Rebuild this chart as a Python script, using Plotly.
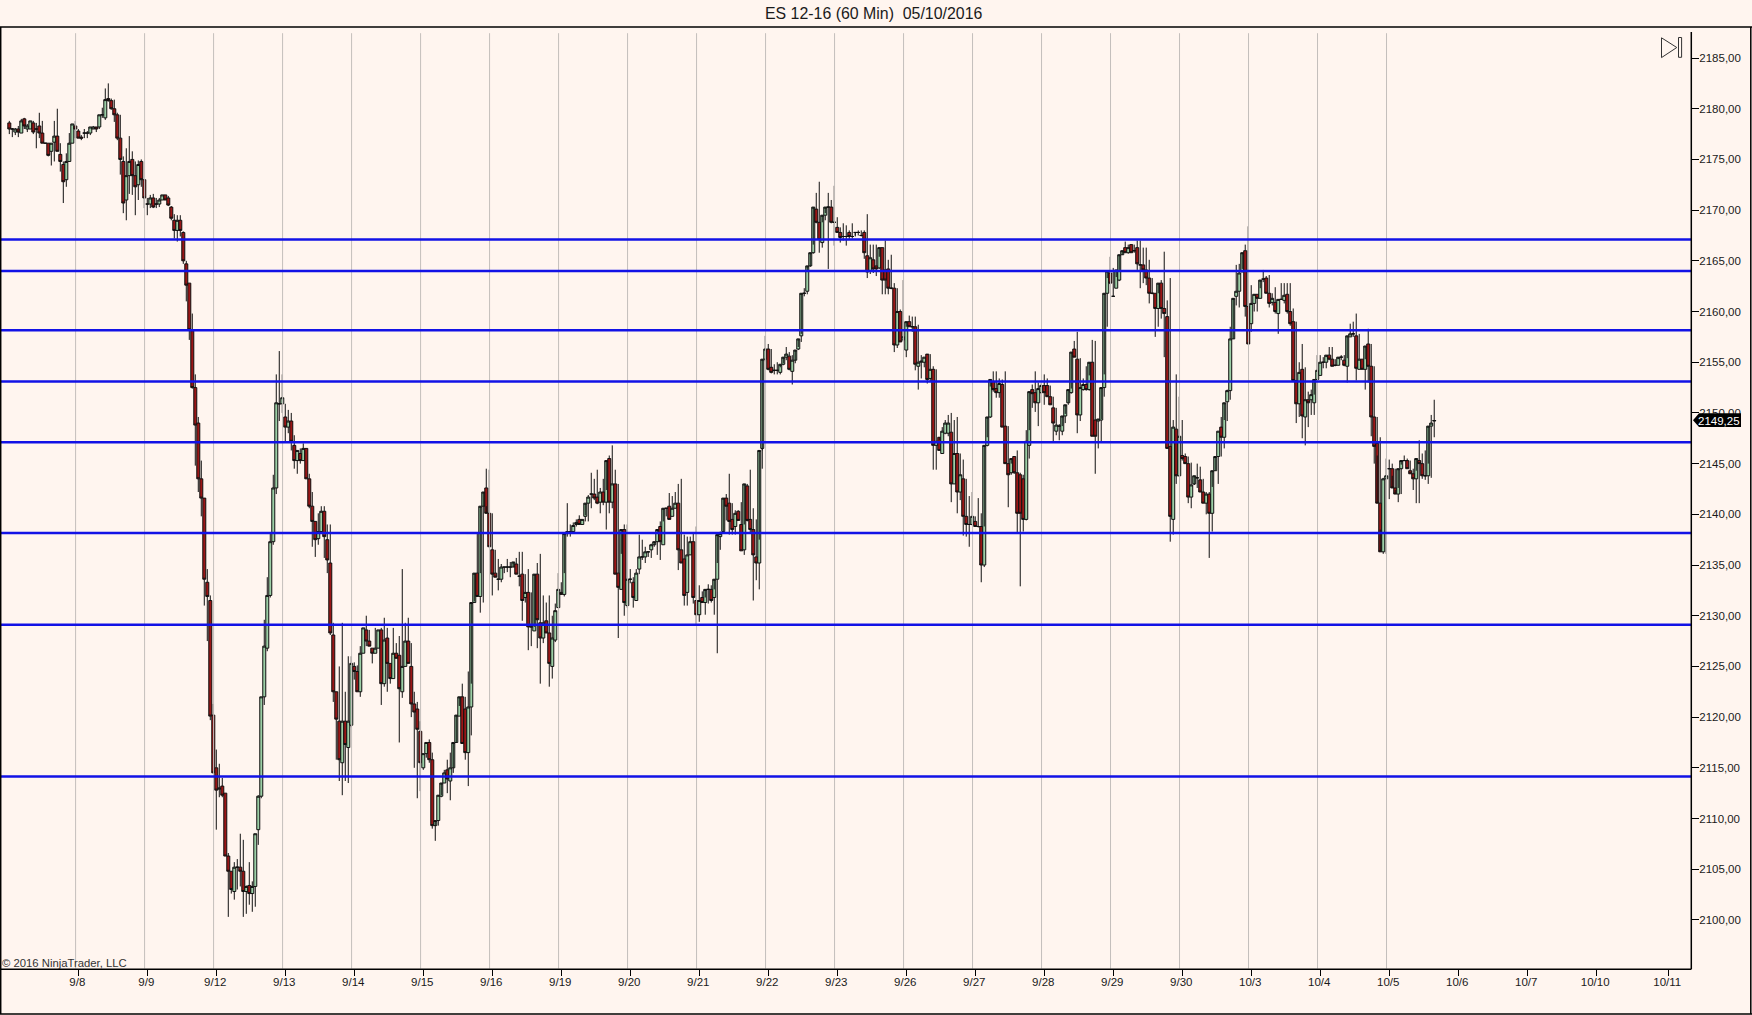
import plotly.graph_objects as go

opens = [
2178.6,2178.0,2177.7,2178.0,2177.6,2179.0,2178.0,2178.0,2178.6,2178.0,
2178.3,2177.6,2176.6,2176.6,2175.8,2176.7,2177.3,2175.5,2174.5,2173.0,
2174.8,2176.6,2178.3,2177.8,2177.2,2177.6,2177.6,2177.6,2178.0,2178.2,
2178.2,2179.4,2179.1,2181.0,2180.8,2180.0,2179.4,2177.1,2174.8,2171.0,
2173.4,2175.0,2173.4,2172.5,2174.8,2173.0,2170.6,2170.6,2171.2,2170.6,
2170.6,2171.0,2171.5,2171.2,2170.3,2169.0,2168.0,2169.0,2167.8,2164.7,
2162.8,2158.1,2152.5,2149.0,2143.5,2141.6,2133.3,2131.5,2120.2,2115.0,
2112.9,2113.2,2112.5,2106.3,2104.8,2102.8,2105.2,2105.2,2104.8,2102.8,
2103.4,2102.6,2103.3,2108.9,2112.2,2122.0,2126.8,2132.0,2137.3,2142.6,
2150.9,2150.9,2149.6,2148.6,2149.2,2146.8,2145.3,2146.0,2145.3,2146.5,
2143.5,2140.8,2139.3,2137.6,2138.3,2140.3,2137.5,2135.2,2128.1,2122.5,
2119.6,2115.5,2119.6,2117.0,2119.2,2125.0,2124.5,2122.5,2126.3,2128.6,
2127.5,2126.8,2126.3,2126.8,2128.6,2123.3,2127.8,2125.3,2123.8,2126.3,
2126.1,2122.5,2125.0,2127.5,2125.0,2121.3,2120.8,2118.6,2115.0,2116.4,
2117.5,2115.8,2109.3,2109.8,2112.2,2113.5,2114.8,2113.7,2115.0,2117.5,
2120.1,2122.0,2120.8,2116.5,2121.0,2131.3,2134.2,2131.9,2140.8,2142.6,
2140.1,2136.5,2134.2,2133.6,2133.6,2134.8,2134.8,2134.8,2134.8,2135.1,
2133.9,2134.1,2131.8,2132.3,2128.9,2128.5,2134.1,2129.3,2127.8,2129.5,
2128.3,2125.0,2127.6,2130.8,2132.3,2132.1,2138.1,2138.3,2138.3,2139.0,
2139.5,2139.0,2139.8,2141.1,2142.0,2142.0,2141.7,2141.2,2142.2,2141.2,
2145.5,2141.2,2143.0,2134.2,2132.6,2138.5,2131.0,2133.6,2133.3,2131.5,
2134.6,2135.8,2135.8,2136.3,2136.5,2137.0,2137.3,2138.8,2137.0,2140.6,
2140.8,2139.8,2140.6,2141.1,2136.5,2135.6,2132.3,2136.0,2137.3,2131.5,
2130.1,2131.8,2131.3,2132.6,2132.6,2131.8,2133.6,2137.8,2138.3,2141.6,
2141.1,2139.5,2138.8,2140.3,2139.0,2136.5,2142.8,2139.5,2138.5,2135.8,
2135.2,2146.5,2155.3,2156.3,2154.5,2154.2,2154.2,2154.0,2154.8,2155.5,
2155.6,2154.1,2155.2,2156.3,2157.6,2161.8,2162.0,2164.5,2165.8,2170.1,
2168.8,2166.8,2169.5,2170.3,2170.3,2168.8,2168.3,2167.8,2167.4,2167.4,
2167.8,2167.4,2167.8,2167.8,2167.5,2167.8,2165.5,2164.0,2165.1,2164.5,
2164.3,2166.3,2164.1,2164.2,2162.3,2162.3,2156.7,2160.0,2157.2,2156.2,
2159.0,2158.5,2158.5,2154.6,2155.0,2155.0,2155.8,2153.4,2154.3,2146.8,
2147.6,2146.0,2148.0,2148.0,2148.1,2143.0,2146.0,2142.2,2143.5,2139.8,
2139.0,2139.0,2139.3,2138.8,2138.8,2135.0,2146.8,2149.6,2153.1,2152.4,
2152.0,2152.8,2148.7,2145.0,2144.1,2145.7,2144.1,2143.9,2143.5,2139.5,
2146.8,2152.3,2152.0,2151.0,2152.0,2152.7,2152.7,2151.6,2150.5,2148.2,
2148.7,2148.2,2149.7,2151.0,2152.0,2156.3,2155.3,2149.8,2152.3,2152.8,
2152.3,2155.0,2149.3,2149.2,2149.3,2152.5,2161.8,2163.8,2161.5,2162.3,
2163.1,2165.6,2166.3,2165.8,2166.6,2166.0,2166.3,2164.6,2164.6,2164.1,
2163.3,2161.8,2161.8,2160.3,2162.8,2160.3,2159.5,2146.7,2139.5,2148.4,
2143.8,2145.8,2145.7,2145.0,2141.7,2143.0,2143.6,2143.4,2142.2,2141.1,
2142.0,2140.1,2144.3,2145.7,2148.6,2147.6,2151.1,2152.2,2157.3,2161.5,
2162.0,2163.9,2166.0,2160.5,2158.8,2160.8,2161.7,2161.3,2163.2,2163.3,
2161.8,2160.9,2160.9,2159.8,2161.2,2161.1,2161.7,2160.0,2159.0,2153.2,
2150.9,2154.3,2149.6,2151.3,2151.3,2151.0,2153.3,2153.7,2155.0,2155.0,
2155.7,2155.3,2154.7,2154.7,2155.5,2155.2,2154.6,2157.5,2157.8,2157.6,
2154.3,2155.3,2154.3,2156.8,2154.6,2149.6,2147.0,2141.1,2136.3,2143.5,
2144.5,2144.5,2142.6,2142.0,2144.5,2145.3,2145.3,2144.3,2144.0,2143.5,
2145.3,2145.0,2143.8,2143.8,2148.7,2149.2]

highs = [
2178.8,2178.1,2178.1,2178.3,2179.0,2179.1,2178.5,2178.8,2178.8,2178.6,
2179.6,2178.8,2176.6,2176.6,2176.6,2178.8,2180.0,2176.6,2174.8,2175.6,
2177.6,2178.5,2178.8,2178.0,2177.4,2178.0,2177.8,2178.2,2178.3,2178.2,
2179.4,2180.1,2182.0,2182.5,2181.0,2180.9,2179.6,2179.4,2175.3,2176.1,
2177.3,2175.8,2174.8,2174.9,2175.0,2173.0,2171.2,2171.5,2171.6,2171.2,
2171.2,2171.5,2171.5,2171.4,2170.4,2169.6,2169.5,2169.5,2167.9,2165.0,
2162.8,2159.8,2153.8,2149.6,2145.3,2141.6,2134.6,2132.0,2121.3,2116.8,
2115.4,2114.0,2112.5,2106.6,2104.8,2105.7,2106.0,2108.5,2107.9,2103.4,
2105.7,2103.8,2108.5,2112.3,2122.0,2129.6,2133.8,2138.1,2143.9,2153.8,
2156.1,2153.8,2150.9,2150.3,2150.0,2147.8,2146.3,2146.5,2147.0,2146.5,
2144.0,2142.2,2139.3,2140.1,2140.8,2140.8,2139.0,2139.0,2129.3,2122.5,
2125.0,2129.3,2122.5,2126.0,2126.0,2125.4,2125.1,2127.0,2128.8,2130.0,
2128.6,2126.8,2128.8,2128.6,2128.8,2129.8,2128.8,2125.3,2128.8,2127.3,
2128.0,2134.6,2129.3,2129.8,2127.3,2122.5,2121.5,2119.6,2116.4,2117.5,
2117.8,2116.5,2109.3,2112.2,2112.3,2114.8,2115.8,2116.5,2115.0,2117.5,
2121.1,2123.3,2122.0,2124.5,2123.3,2131.4,2138.1,2134.2,2140.8,2144.5,
2144.4,2140.1,2136.5,2135.6,2135.1,2134.8,2135.6,2135.3,2134.8,2135.7,
2136.3,2136.3,2134.1,2134.6,2132.3,2128.9,2135.2,2136.1,2132.0,2131.3,
2132.0,2130.0,2131.2,2134.2,2133.3,2134.2,2141.1,2139.0,2139.2,2139.5,
2139.9,2139.5,2139.9,2141.9,2144.1,2143.5,2144.4,2142.6,2143.5,2142.4,
2145.8,2146.8,2144.4,2143.0,2136.1,2139.0,2139.0,2134.6,2133.8,2134.6,
2138.0,2137.5,2136.8,2136.3,2137.1,2137.0,2138.2,2139.3,2139.3,2140.6,
2142.1,2141.8,2142.2,2143.0,2143.5,2138.0,2137.8,2137.8,2138.1,2138.8,
2133.0,2132.4,2131.8,2133.1,2133.0,2132.6,2135.2,2138.3,2138.3,2142.0,
2144.0,2141.1,2140.4,2140.4,2141.2,2139.0,2143.0,2144.4,2140.6,2139.5,
2137.5,2146.3,2157.6,2156.8,2156.3,2154.8,2155.0,2154.5,2154.9,2156.5,
2156.0,2155.7,2155.2,2156.5,2157.8,2162.3,2164.0,2164.5,2166.6,2171.7,
2172.8,2168.8,2169.7,2171.7,2171.0,2172.4,2169.3,2168.3,2168.7,2168.5,
2168.0,2168.7,2167.5,2168.0,2168.0,2168.0,2169.6,2166.6,2166.6,2166.6,
2165.4,2166.3,2167.0,2165.1,2165.6,2162.8,2162.3,2160.2,2163.1,2158.5,
2159.6,2159.5,2159.5,2158.7,2155.7,2155.5,2155.7,2155.8,2154.6,2154.3,
2147.3,2148.6,2149.3,2149.8,2150.0,2149.3,2149.6,2146.0,2145.4,2143.5,
2141.8,2142.2,2139.8,2141.6,2140.1,2138.8,2147.6,2152.6,2154.1,2154.1,
2153.4,2153.3,2154.1,2148.7,2145.0,2145.7,2146.3,2144.1,2143.9,2148.3,
2148.3,2152.8,2154.1,2153.0,2152.9,2153.8,2153.4,2152.7,2151.6,2150.5,
2148.9,2148.7,2149.9,2151.0,2152.4,2157.1,2158.0,2155.4,2153.4,2154.6,
2153.7,2157.2,2157.1,2149.3,2149.4,2153.8,2163.3,2165.4,2164.3,2163.4,
2164.1,2165.6,2166.9,2166.6,2166.6,2166.6,2167.0,2167.0,2166.3,2166.3,
2165.1,2163.3,2161.8,2161.8,2163.1,2165.9,2161.1,2163.3,2149.3,2153.8,
2151.6,2149.3,2146.0,2145.7,2145.1,2142.9,2145.0,2144.7,2143.5,2142.2,
2142.2,2142.7,2144.3,2148.2,2149.6,2149.3,2152.3,2158.5,2157.3,2164.6,
2164.7,2164.2,2166.6,2168.4,2162.6,2161.6,2161.7,2162.3,2164.1,2163.5,
2163.6,2161.8,2162.4,2161.1,2162.8,2162.8,2162.8,2162.8,2160.3,2159.0,
2155.0,2156.8,2154.5,2152.1,2152.3,2151.8,2155.7,2155.7,2155.5,2155.5,
2156.5,2156.5,2155.3,2155.3,2155.7,2155.7,2155.4,2158.8,2159.0,2159.8,
2157.8,2155.3,2155.3,2158.3,2156.8,2154.6,2149.6,2147.6,2143.6,2145.5,
2145.4,2145.0,2144.5,2142.6,2144.9,2145.8,2145.5,2145.3,2144.5,2144.3,
2147.3,2146.0,2146.3,2145.0,2149.8,2151.3,2149.6]

lows = [
2177.5,2177.2,2177.4,2177.2,2177.6,2178.0,2177.7,2178.0,2177.5,2176.1,
2177.1,2176.6,2176.6,2175.3,2174.4,2174.8,2175.8,2173.8,2170.7,2172.3,
2174.8,2176.6,2177.1,2177.1,2176.9,2177.1,2177.1,2177.4,2178.0,2177.7,
2178.0,2179.1,2178.9,2180.7,2179.9,2178.7,2176.9,2173.5,2169.7,2169.0,
2171.6,2171.5,2169.5,2171.0,2172.3,2170.2,2169.5,2170.2,2170.2,2170.2,
2170.3,2171.0,2171.0,2170.4,2169.0,2167.2,2166.9,2167.4,2164.7,2161.0,
2157.2,2152.4,2144.8,2142.2,2139.8,2131.0,2127.5,2119.7,2114.5,2108.9,
2112.1,2112.1,2106.3,2100.3,2102.6,2102.0,2103.0,2103.3,2100.3,2100.6,
2101.5,2100.8,2101.3,2107.4,2112.0,2121.2,2126.5,2131.8,2137.0,2142.0,
2149.2,2150.0,2147.2,2148.0,2146.3,2144.5,2144.0,2145.0,2145.3,2143.5,
2140.6,2136.8,2135.8,2137.0,2138.1,2135.7,2134.2,2128.1,2121.5,2115.8,
2113.7,2112.3,2113.7,2113.5,2119.0,2123.7,2122.5,2122.0,2126.3,2127.0,
2127.0,2125.3,2126.3,2126.8,2121.2,2123.0,2122.5,2123.3,2123.8,2125.8,
2117.5,2121.9,2125.0,2125.3,2120.0,2115.0,2112.0,2112.7,2114.8,2116.0,
2115.5,2109.0,2107.8,2109.3,2112.1,2113.5,2112.5,2111.8,2114.5,2117.5,
2120.1,2117.4,2115.8,2113.2,2118.2,2131.3,2131.9,2130.3,2131.3,2140.8,
2136.8,2132.0,2133.8,2132.5,2133.3,2134.2,2134.3,2133.8,2134.8,2134.1,
2132.9,2129.5,2131.3,2126.6,2127.0,2128.5,2126.8,2123.3,2127.3,2128.3,
2123.0,2123.8,2127.4,2130.8,2132.1,2131.9,2137.8,2137.8,2138.3,2138.8,
2139.0,2139.0,2139.3,2139.3,2140.6,2141.4,2141.0,2140.1,2140.9,2138.5,
2140.1,2140.6,2134.1,2127.8,2132.6,2130.0,2130.8,2133.2,2130.8,2131.5,
2134.1,2135.5,2135.2,2135.8,2135.7,2136.8,2136.0,2135.5,2137.0,2139.8,
2139.5,2139.8,2140.6,2134.5,2135.2,2131.0,2131.0,2136.0,2131.2,2129.1,
2129.4,2131.3,2130.1,2131.2,2131.3,2130.1,2126.3,2136.5,2138.3,2139.4,
2138.0,2138.0,2138.0,2139.4,2136.4,2136.0,2139.3,2138.2,2131.5,2133.5,
2132.6,2144.5,2155.1,2154.2,2153.9,2153.8,2153.8,2153.8,2154.7,2155.2,
2154.2,2152.8,2154.9,2156.2,2157.0,2161.5,2161.7,2164.4,2165.7,2168.7,
2165.8,2166.3,2169.0,2164.2,2168.7,2166.5,2167.8,2166.8,2167.0,2166.5,
2167.1,2167.2,2167.4,2167.5,2167.4,2165.2,2163.3,2163.7,2163.8,2163.5,
2164.2,2161.7,2161.7,2161.7,2162.2,2156.0,2156.4,2157.0,2157.2,2155.5,
2158.5,2158.0,2154.2,2152.3,2153.4,2154.5,2152.9,2153.1,2144.4,2144.4,
2146.3,2146.0,2147.9,2147.7,2141.2,2143.0,2140.1,2141.4,2137.9,2137.8,
2136.8,2138.9,2138.8,2138.7,2133.3,2134.8,2146.7,2149.5,2152.1,2151.5,
2151.5,2148.6,2145.0,2140.7,2143.9,2144.0,2138.1,2132.9,2138.3,2139.4,
2145.5,2150.5,2150.1,2148.7,2151.9,2150.8,2151.6,2150.8,2147.2,2147.8,
2147.3,2147.8,2149.0,2150.8,2151.9,2155.5,2148.0,2149.2,2152.2,2152.2,
2152.2,2147.7,2144.0,2146.5,2147.2,2151.6,2158.5,2162.7,2161.5,2162.3,
2163.0,2165.6,2165.8,2165.7,2165.8,2165.8,2164.1,2162.3,2162.8,2162.6,
2160.8,2161.7,2157.5,2158.5,2159.3,2155.5,2146.5,2137.3,2138.0,2143.0,
2143.7,2145.3,2145.0,2141.1,2140.6,2142.9,2142.6,2142.2,2141.1,2140.0,
2135.7,2138.3,2144.3,2143.0,2145.7,2146.5,2149.2,2151.3,2157.3,2160.6,
2160.4,2163.9,2159.5,2156.8,2158.0,2160.0,2160.0,2161.3,2162.9,2161.8,
2160.4,2160.6,2159.8,2157.8,2161.2,2160.8,2159.8,2158.6,2153.2,2149.0,
2149.6,2147.5,2146.8,2148.6,2149.8,2149.8,2153.2,2153.7,2154.4,2154.4,
2155.2,2154.6,2154.6,2154.7,2155.2,2154.6,2153.0,2157.5,2157.5,2153.2,
2154.3,2154.3,2152.3,2153.0,2147.7,2145.0,2145.8,2138.5,2136.1,2136.1,
2141.5,2143.8,2142.4,2141.2,2142.0,2145.3,2144.5,2144.0,2142.4,2141.1,
2141.1,2143.5,2143.4,2143.0,2143.6,2147.6,2148.8]

closes = [
2178.0,2178.0,2178.0,2177.7,2178.8,2178.3,2178.3,2178.8,2177.7,2178.0,
2177.6,2176.6,2176.6,2175.4,2176.6,2177.3,2175.8,2174.8,2172.8,2174.8,
2176.6,2178.5,2178.0,2177.1,2177.1,2177.6,2177.6,2178.2,2178.2,2178.0,
2179.4,2179.4,2180.9,2180.8,2180.0,2179.4,2177.1,2175.0,2170.7,2173.4,
2174.8,2173.4,2172.3,2174.5,2173.0,2171.2,2170.6,2171.2,2170.3,2170.6,
2171.0,2171.5,2171.0,2170.5,2169.2,2168.0,2169.0,2168.0,2165.0,2162.6,
2158.2,2152.5,2148.8,2143.5,2141.6,2133.6,2131.9,2120.1,2114.5,2112.8,
2113.0,2112.3,2106.3,2104.8,2103.0,2105.2,2105.2,2104.8,2102.8,2103.3,
2102.6,2103.3,2108.5,2112.2,2122.0,2127.0,2132.0,2137.3,2142.6,2151.0,
2150.9,2151.5,2148.6,2149.2,2147.2,2145.3,2146.3,2145.3,2146.5,2143.5,
2140.8,2139.3,2137.5,2138.3,2140.3,2137.8,2135.5,2128.3,2122.5,2119.8,
2115.8,2119.6,2117.3,2119.6,2125.3,2124.5,2122.5,2126.3,2128.8,2127.5,
2127.0,2126.3,2126.8,2128.6,2123.3,2127.6,2125.3,2123.8,2126.3,2125.8,
2122.8,2125.0,2127.5,2125.3,2121.3,2120.5,2118.8,2115.5,2116.4,2117.5,
2115.8,2109.3,2109.8,2112.3,2113.5,2114.5,2113.9,2115.0,2117.5,2120.2,
2122.0,2117.4,2116.5,2121.0,2131.3,2134.2,2131.9,2140.8,2142.2,2140.1,
2136.8,2134.1,2133.8,2133.6,2134.8,2134.8,2134.8,2134.8,2135.3,2134.1,
2133.9,2131.5,2132.3,2128.9,2128.9,2134.1,2129.6,2127.8,2129.3,2128.3,
2125.3,2127.8,2130.5,2132.6,2132.1,2138.1,2138.3,2138.3,2138.9,2139.2,
2139.0,2139.5,2141.1,2141.7,2142.0,2141.6,2141.1,2142.2,2141.2,2145.3,
2141.2,2143.0,2134.1,2132.8,2138.5,2131.3,2133.6,2133.6,2131.8,2134.2,
2135.8,2135.8,2136.3,2136.3,2137.0,2137.3,2138.5,2137.3,2140.6,2140.6,
2139.5,2140.6,2141.1,2136.5,2135.2,2132.0,2136.0,2137.3,2131.8,2130.1,
2131.5,2131.3,2132.6,2132.6,2131.5,2133.6,2138.0,2138.1,2141.6,2140.8,
2139.3,2138.5,2140.1,2139.4,2136.4,2143.0,2139.4,2138.5,2136.0,2135.2,
2146.3,2155.3,2156.3,2154.3,2154.0,2154.2,2154.2,2154.8,2155.5,2155.8,
2154.3,2155.2,2156.2,2157.3,2161.8,2161.8,2164.5,2165.8,2170.3,2168.8,
2167.1,2169.5,2170.3,2170.3,2168.8,2168.8,2167.8,2167.3,2167.4,2167.4,
2167.4,2167.4,2167.8,2167.8,2167.5,2165.8,2163.9,2165.3,2164.2,2164.2,
2166.3,2163.1,2163.1,2162.3,2162.3,2156.7,2160.0,2157.0,2157.5,2159.0,
2158.5,2158.5,2154.8,2155.0,2155.1,2155.5,2153.3,2154.3,2146.8,2147.2,
2146.3,2148.2,2149.0,2149.0,2143.0,2146.0,2142.2,2143.9,2139.8,2139.0,
2139.0,2139.8,2138.8,2138.8,2135.0,2146.8,2149.6,2153.3,2152.3,2152.0,
2152.9,2148.6,2145.0,2143.9,2145.5,2144.1,2140.1,2140.1,2139.5,2147.2,
2152.1,2151.9,2151.0,2152.4,2152.7,2152.0,2151.6,2150.8,2149.0,2148.8,
2148.7,2149.7,2150.8,2152.3,2156.0,2155.5,2149.8,2152.5,2152.8,2152.3,
2155.0,2147.7,2147.7,2149.4,2152.5,2161.8,2164.0,2162.8,2161.5,2164.1,
2165.6,2166.0,2165.8,2166.3,2165.8,2166.0,2164.7,2164.6,2164.1,2163.3,
2161.8,2161.8,2160.3,2162.8,2160.3,2159.8,2146.5,2139.8,2148.6,2143.8,
2147.7,2145.5,2145.0,2141.7,2142.9,2143.8,2143.6,2142.2,2141.1,2142.0,
2140.1,2144.3,2145.7,2148.2,2147.6,2151.0,2152.2,2157.3,2161.3,2162.0,
2163.8,2165.8,2160.5,2156.8,2160.8,2161.7,2161.3,2163.1,2163.2,2161.8,
2160.8,2161.3,2160.0,2161.2,2161.2,2161.6,2160.0,2158.8,2153.2,2150.9,
2154.0,2149.7,2151.3,2151.0,2151.8,2153.3,2154.2,2155.0,2155.0,2155.7,
2155.3,2154.6,2154.7,2155.5,2155.5,2154.7,2157.6,2157.8,2157.8,2154.4,
2155.3,2154.3,2156.6,2154.6,2149.6,2146.7,2141.1,2136.3,2143.5,2143.8,
2144.5,2142.6,2142.0,2144.5,2145.3,2145.3,2144.5,2144.0,2143.5,2145.5,
2145.0,2143.8,2143.8,2148.7,2149.0,2149.25]

n = min(len(opens), len(highs), len(lows), len(closes))
opens, highs, lows, closes = opens[:n], highs[:n], lows[:n], closes[:n]
bar_index = list(range(n))

level_prices = [2167.1, 2164.0, 2158.15, 2153.1, 2147.1, 2138.15, 2129.1, 2114.15]
y_ticks = list(range(2100, 2190, 5))
y_labels = [f"{v},00" for v in y_ticks]
date_labels = ["9/8","9/9","9/12","9/13","9/14","9/15","9/16","9/19","9/20","9/21","9/22","9/23",
               "9/26","9/27","9/28","9/29","9/30","10/3","10/4","10/5","10/6","10/7","10/10","10/11"]
date_ticks = [23,46,69,92,115,138,161,184,207,230,253,276,299,322,345,368,391,414,437,460,483,506,529,553]
session_lines = [22.1,45.1,68.1,91.1,114.1,137.1,160.1,183.1,206.1,229.1,252.1,275.1,298.1,321.1,344.1,367.1,390.1,413.1,436.1,459.1]
last_price = 2149.25

W, H = 1752, 1015
L, R, T, B = 0, 1691, 27, 969
BG = "#FFF5EF"
FONT = "Liberation Sans"

def px(x):  return (x - L) / (R - L)
def py(y):  return (B - y) / (B - T)

grid_x, grid_y = [], []
for g in session_lines:
    grid_x += [g, g, None]
    grid_y += [2187.45, 2095.2, None]

fig = go.Figure()
fig.add_trace(go.Scatter(x=grid_x, y=grid_y, mode="lines", line=dict(color="#C4BEBB", width=1), hoverinfo="skip", showlegend=False))
fig.add_trace(go.Candlestick(
    x=bar_index, open=opens, high=highs, low=lows, close=closes,
    whiskerwidth=0,
    increasing=dict(line=dict(color="#101010", width=1), fillcolor="#9CCFA6"),
    decreasing=dict(line=dict(color="#101010", width=1), fillcolor="#9A1616"),
    showlegend=False))

shapes = []
for lv in level_prices:
    shapes.append(dict(type="line", xref="paper", yref="y", x0=0, x1=1, y0=lv, y1=lv,
                       line=dict(color="#1212E6", width=2.5)))
def frame(x0, y0, x1, y1, width=1.5, color="#000000"):
    shapes.append(dict(type="line", xref="paper", yref="paper", x0=px(x0), x1=px(x1), y0=py(y0), y1=py(y1),
                       line=dict(color=color, width=width)))
frame(0, 27, 1752, 27)
frame(0.7, 27, 0.7, 1014)
frame(1750.8, 27, 1750.8, 1014)
frame(0, 1014, 1752, 1014)
frame(0, 969.3, 1691.3, 969.3)
frame(1691.3, 32, 1691.3, 969.3)
# go-to-last-bar icon
shapes.append(dict(type="path", xref="paper", yref="paper",
    path=f"M {px(1661.5)} {py(37.8)} L {px(1661.5)} {py(57.6)} L {px(1676.8)} {py(47.5)} Z",
    line=dict(color="#333333", width=1)))
shapes.append(dict(type="rect", xref="paper", yref="paper", x0=px(1678.5), x1=px(1681.6), y0=py(37.5), y1=py(57.3),
    line=dict(color="#333333", width=1)))
# last price flag
shapes.append(dict(type="path", xref="paper", yref="paper",
    path=f"M {px(1693)} {py(420.3)} L {px(1699)} {py(413.3)} L {px(1741)} {py(413.3)} L {px(1741)} {py(427)} L {px(1699)} {py(427)} Z",
    fillcolor="#000000", line=dict(color="#000000", width=0)))

annotations = [
    dict(xref="paper", yref="paper", x=px(873.5), y=py(13.5), xanchor="center", yanchor="middle", showarrow=False,
         text="ES 12-16 (60 Min)  05/10/2016", font=dict(family=FONT, size=15.9, color="#1A1A1A")),
    dict(xref="paper", yref="paper", x=0, y=py(962.5), xanchor="left", yanchor="middle", showarrow=False,
         text="© 2016 NinjaTrader, LLC", font=dict(family=FONT, size=11.3, color="#333333")),
    dict(xref="paper", yref="y", x=px(1719.5), y=last_price, xanchor="center", yanchor="middle", showarrow=False,
         text=f"{last_price:.2f}".replace(".", ","), font=dict(family=FONT, size=11.5, color="#FFFFFF")),
]

fig.update_layout(
    width=W, height=H, autosize=False,
    margin=dict(l=L, r=W - R, t=T, b=H - B, pad=0),
    paper_bgcolor=BG, plot_bgcolor=BG,
    boxgap=0.0, boxgroupgap=0.0,
    showlegend=False, hovermode=False,
    shapes=shapes, annotations=annotations,
    font=dict(family=FONT, size=11.5, color="#1A1A1A"),
    xaxis=dict(type="linear", range=[-3.1, 560.6], rangeslider=dict(visible=False), showgrid=False, zeroline=False,
               tickmode="array", tickvals=date_ticks, ticktext=date_labels, ticks="outside", ticklen=6,
               tickwidth=1, tickcolor="#000000", showline=False, ticklabelstandoff=-4, ticklabelshift=-1),
    yaxis=dict(side="right", range=[2095.16, 2188.06], showgrid=False, zeroline=False,
               tickmode="array", tickvals=y_ticks, ticktext=y_labels, ticks="outside", ticklen=7,
               tickwidth=1, tickcolor="#000000", showline=False, ticklabelstandoff=-2),
)

fig.write_html("out.html", config=dict(displayModeBar=False),
               post_script="document.body.style.margin='0';document.body.style.overflow='hidden';document.body.style.background='#FFF5EF';")
